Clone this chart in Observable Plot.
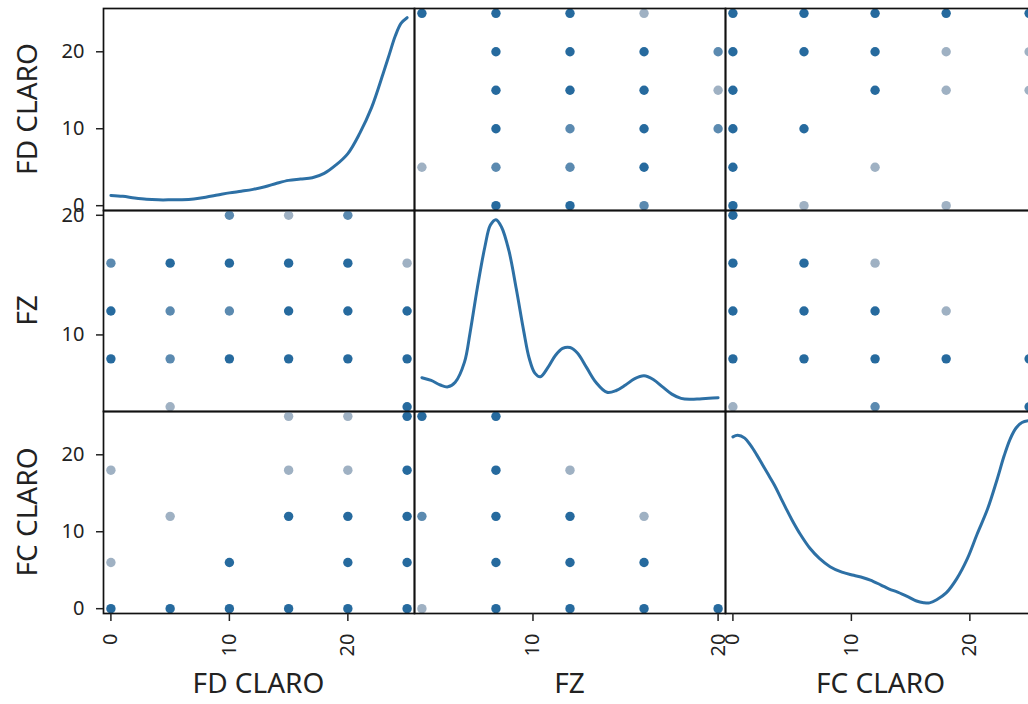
<!DOCTYPE html>
<html><head><meta charset="utf-8">
<script src="https://cdn.jsdelivr.net/npm/d3@7"></script>
<script src="https://cdn.jsdelivr.net/npm/@observablehq/plot@0.6"></script>
<style>
html,body{margin:0;padding:0;background:#fff;}
#chart{position:relative;width:1028px;height:704px;overflow:hidden;background:#fff;font-family:"Noto Sans",sans-serif;}
#chart svg{position:absolute;overflow:visible;background:transparent;max-width:none;}
</style></head><body><div id="chart"></div>
<script>
// ---------- data ----------
const vars = ["FD CLARO", "FZ", "FC CLARO"];
const tickValues = [[0, 10, 20], [10, 20], [0, 10, 20]];

// [FD CLARO, FZ, overlap count]
const fdFz = [
  [25,4,3],[25,8,3],[25,12,3],[25,16,1],
  [20,8,3],[20,12,3],[20,16,3],[20,20,2],
  [15,8,3],[15,12,3],[15,16,3],[15,20,1],
  [10,8,3],[10,12,2],[10,16,3],[10,20,2],
  [5,4,1],[5,8,2],[5,12,2],[5,16,3],
  [0,8,3],[0,12,3],[0,16,2]
];
// [FD CLARO, FC CLARO, overlap count]
const fdFc = [
  [25,0,3],[25,6,3],[25,12,3],[25,18,3],[25,25,3],
  [20,0,3],[20,6,3],[20,12,3],[20,18,1],[20,25,1],
  [15,0,3],[15,12,3],[15,18,1],[15,25,1],
  [10,0,3],[10,6,3],
  [5,0,3],[5,12,1],
  [0,0,3],[0,6,1],[0,18,1]
];
// [FZ, FC CLARO, overlap count]
const fzFc = [
  [20,0,3],
  [16,0,3],[16,6,3],[16,12,1],
  [12,0,3],[12,6,3],[12,12,3],[12,18,1],
  [8,0,3],[8,6,3],[8,12,3],[8,18,3],[8,25,3],
  [4,0,1],[4,12,2],[4,25,3]
];

// diagonal density curves [value, relative density]
const kdeFd = [[0,0.032],[1,0.027],[2,0.018],[3,0.011],[4,0.008],[5,0.008],[6,0.009],[7,0.013],[8,0.022],[9,0.034],[10,0.046],[11,0.055],[12,0.065],[13,0.079],[14,0.098],[15,0.114],[16,0.121],[17,0.128],[18,0.152],[19,0.198],[20,0.26],[21,0.37],[22,0.51],[23,0.7],[23.5,0.8],[24,0.9],[24.5,0.97],[25,1.0]];
const kdeFz = [[4,0.135],[4.5,0.12],[5,0.095],[5.4,0.085],[5.8,0.11],[6.3,0.22],[6.6,0.38],[7,0.63],[7.4,0.85],[7.7,0.97],[8,1.0],[8.3,0.96],[8.7,0.83],[9.1,0.62],[9.5,0.39],[9.8,0.24],[10.1,0.16],[10.4,0.14],[10.8,0.19],[11.2,0.255],[11.6,0.295],[12,0.3],[12.4,0.27],[12.9,0.19],[13.4,0.11],[14,0.055],[14.5,0.065],[15,0.095],[15.5,0.13],[16,0.145],[16.5,0.125],[17,0.085],[17.5,0.045],[18,0.022],[18.5,0.017],[19,0.019],[19.5,0.022],[20,0.025]];
const kdeFc = [[0,0.912],[0.4,0.921],[1,0.905],[1.5,0.865],[2,0.815],[2.5,0.76],[3,0.705],[3.5,0.65],[4,0.585],[4.5,0.52],[5,0.458],[5.7,0.38],[6.5,0.305],[7.3,0.25],[8.2,0.205],[9.2,0.175],[10.2,0.158],[11,0.145],[11.6,0.132],[12.5,0.105],[13.2,0.083],[13.9,0.066],[14.8,0.04],[15.5,0.018],[16.1,0.009],[16.6,0.008],[17.2,0.025],[18,0.062],[18.9,0.14],[19.8,0.25],[20.6,0.38],[21.5,0.52],[22.3,0.68],[22.9,0.81],[23.4,0.9],[23.9,0.96],[24.4,0.99],[25,1.0]];

// ---------- layout / style ----------
const domains = [[-0.625, 25.625], [3.6, 20.4], [-0.625, 25.625]];
const kdes = [kdeFd, kdeFz, kdeFc];
const pairs = {"0-1": fdFz, "0-2": fdFc, "1-2": fzFc};
const colX = [103, 414, 725], colW = 311;
const rowY = [8, 210, 411], rowH = [202, 201, 202];
const dotColors = {1: "#9fb1c3", 2: "#5b8ab0", 3: "#266a9e"};
const lineColor = "#2d70a5";
const textColor = "#222";

function pairData(xi, yi) {
  const a = Math.min(xi, yi), b = Math.max(xi, yi);
  return pairs[a + "-" + b].map(([u, v, n]) => xi === a ? {x: u, y: v, n} : {x: v, y: u, n});
}
const chart = document.getElementById("chart");
function place(svg, left, top) {
  svg.style.position = "absolute";
  svg.style.left = left + "px";
  svg.style.top = top + "px";
  svg.style.background = "transparent";
  svg.style.overflow = "visible";
  chart.appendChild(svg);
}

// panels
for (let r = 0; r < 3; r++) {
  for (let c = 0; c < 3; c++) {
    const diag = r === c;
    const marks = [];
    if (diag) {
      marks.push(Plot.line(kdes[r], {x: d => d[0], y: d => d[1], stroke: lineColor, strokeWidth: 3, curve: "catmull-rom"}));
    } else {
      const data = pairData(c, r);
      for (const n of [1, 2, 3]) {
        marks.push(Plot.dot(data.filter(d => d.n === n), {x: "x", y: "y", r: 4.7, fill: dotColors[n], stroke: "none", clip: true}));
      }
    }
    marks.push(Plot.frame({stroke: "#111", strokeWidth: 1.7}));
    const svg = Plot.plot({
      width: colW, height: rowH[r], margin: 0,
      x: {domain: domains[c], axis: null},
      y: {domain: diag ? [-0.05, 1.05] : domains[r], axis: null},
      marks
    });
    place(svg, colX[c], rowY[r]);
  }
}

// left y axes
for (let r = 0; r < 3; r++) {
  const svg = Plot.plot({
    width: 104, height: rowH[r], marginLeft: 103, marginRight: 0, marginTop: 0, marginBottom: 0,
    x: {domain: [0, 1], axis: null},
    y: {domain: domains[r]},
    marks: [Plot.axisY(tickValues[r], {anchor: "left", tickSize: 7, tickPadding: 12, fontSize: 20, color: textColor, label: null, strokeWidth: 1.5})]
  });
  place(svg, 0, rowY[r]);
}
// bottom x axes
for (let c = 0; c < 3; c++) {
  const svg = Plot.plot({
    width: colW, height: 100, marginTop: 0, marginBottom: 99, marginLeft: 0, marginRight: 0,
    x: {domain: domains[c]},
    y: {domain: [0, 1], axis: null},
    marks: [Plot.axisX(tickValues[c], {anchor: "bottom", tickSize: 8, tickPadding: 12, tickRotate: -90, fontSize: 20, color: textColor, label: null, strokeWidth: 1.5})]
  });
  place(svg, colX[c], 612);
}

// axis titles
const ov = d3.create("svg").attr("width", 1028).attr("height", 704)
  .style("position", "absolute").style("left", "0px").style("top", "0px").style("pointer-events", "none");
vars.forEach((name, i) => {
  ov.append("text").attr("x", colX[i] + colW / 2).attr("y", 693).attr("text-anchor", "middle")
    .attr("font-family", "Noto Sans").attr("font-size", 28).attr("fill", textColor).text(name);
  const cy = rowY[i] + rowH[i] / 2;
  ov.append("text").attr("transform", `translate(37,${cy}) rotate(-90)`).attr("text-anchor", "middle")
    .attr("font-family", "Noto Sans").attr("font-size", 28).attr("fill", textColor).text(name);
});
chart.appendChild(ov.node());
</script></body></html>
